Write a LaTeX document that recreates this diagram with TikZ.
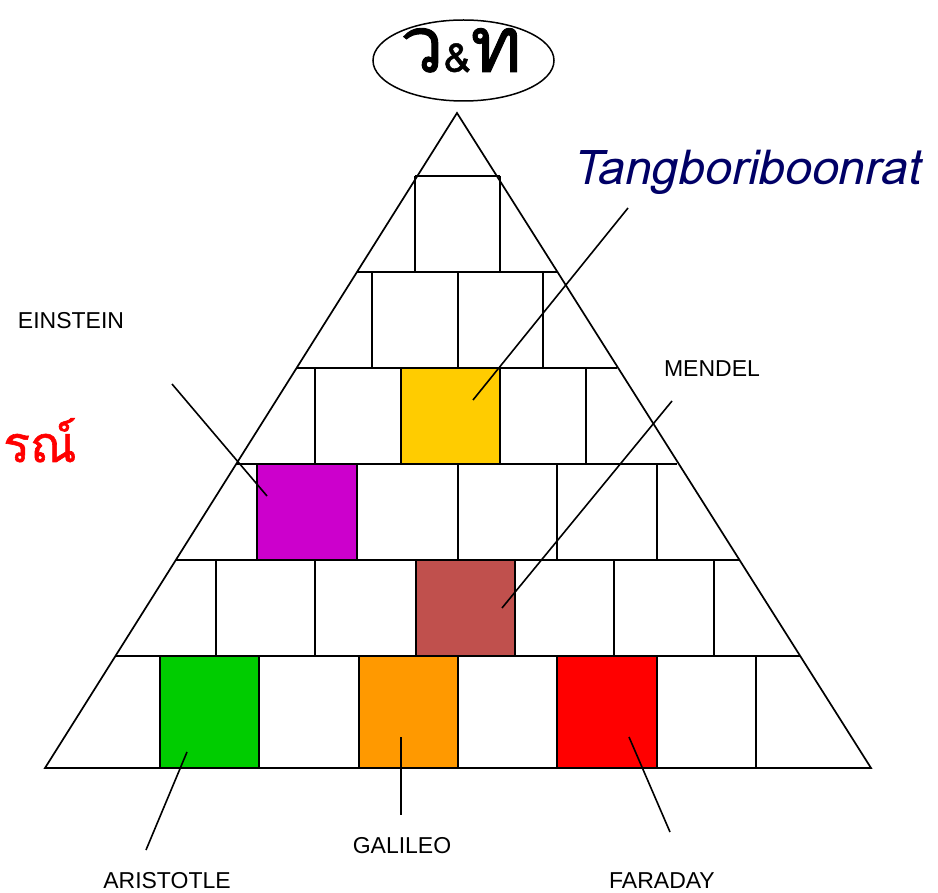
\documentclass[tikz,border=0pt]{standalone}
\usepackage{fontspec}
\setmainfont{Liberation Sans}
\newfontfamily\thaifont[Script=Thai,FakeBold=1.2]{Loma}
\newfontfamily\tangfont[FakeSlant=0.22]{Loma}
\usetikzlibrary{shapes.geometric}
\definecolor{cyel}{HTML}{FFCC00}
\definecolor{cpur}{HTML}{CC00CC}
\definecolor{cbrn}{HTML}{C0504D}
\definecolor{cgrn}{HTML}{00CC00}
\definecolor{corg}{HTML}{FF9900}
\definecolor{cred}{HTML}{FF0000}
\definecolor{cnavy}{HTML}{000066}
\tikzset{
  gridline/.style={line width=2pt},
  cbox/.style={draw, line width=2pt, inner sep=0pt, minimum width=#1, minimum height=96pt},
  lbl/.style={font=\fontsize{23}{23}\selectfont, inner sep=0pt},
  conn/.style={line width=1.6pt}
}
\begin{document}
\begin{tikzpicture}[x=1pt,y=-1pt]
\useasboundingbox (0,0) rectangle (938,893);
% triangle
\draw[line width=1.7pt, line join=miter] (457,113) -- (871,768) -- (45,768) -- cycle;
% horizontal lines
\draw[gridline] (415,176) -- (500,176);
\draw[gridline] (357,272) -- (557,272);
\draw[gridline] (297,368) -- (617,368);
\draw[gridline] (237,464) -- (677,464);
\draw[gridline] (176,560) -- (740,560);
\draw[gridline] (116,656) -- (800,656);
% verticals row 1
\draw[gridline] (415,176) -- (415,272);
\draw[gridline] (500,176) -- (500,272);
% row 2
\foreach \x in {372,458,543} \draw[gridline] (\x,272) -- (\x,368);
% row 3
\foreach \x in {315,586} \draw[gridline] (\x,368) -- (\x,464);
% row 4
\foreach \x in {458,557,657} \draw[gridline] (\x,464) -- (\x,560);
% row 5
\foreach \x in {216,315,614,714} \draw[gridline] (\x,560) -- (\x,656);
% row 6
\draw[gridline] (756,656) -- (756,768);
% coloured boxes
\node[cbox=99pt, fill=cyel] (yellow) at (450.5,416) {};
\node[cbox=100pt, fill=cpur] (purple) at (307,512) {};
\node[cbox=99pt, fill=cbrn] (brown) at (465,608) {};
\node[cbox=99pt, fill=cgrn, minimum height=112pt] (green) at (209.5,712) {};
\node[cbox=99pt, fill=corg, minimum height=112pt] (orange) at (408.5,712) {};
\node[cbox=100pt, fill=cred, minimum height=112pt] (red) at (607,712) {};
% title ellipse
\node[ellipse, draw, line width=1.5pt, minimum width=181pt, minimum height=81pt, inner sep=0pt] (title) at (463.5,60.5) {};
\node[inner sep=0pt, anchor=base] (titletext) at (461,72) {\thaifont\fontsize{78}{78}\selectfont ว{\fontsize{40}{40}\selectfont\&}ท};
% texts
\node[inner sep=0pt, anchor=base west, text=cred] (redtext) at (3,462) {\thaifont\fontsize{50}{50}\selectfont รณ์};
\node[inner sep=0pt, anchor=base, text=cnavy] (tang) at (746,185) {\tangfont\fontsize{48}{48}\selectfont Tangboriboonrat};
\node[lbl] (einstein) at (71,321) {EINSTEIN};
\node[lbl] (mendel) at (712,369) {MENDEL};
\node[lbl] (galileo) at (402,846) {GALILEO};
\node[lbl] (aristotle) at (167,881) {ARISTOTLE};
\node[lbl] (faraday) at (662,881) {FARADAY};
% connector ends
\coordinate (tangA) at (628,208);
\coordinate (tangB) at (473,400);
\coordinate (einA) at (172,384);
\coordinate (einB) at (267,496);
\coordinate (menA) at (672,401);
\coordinate (menB) at (502,608);
\coordinate (ariA) at (187,752);
\coordinate (ariB) at (146,850);
\coordinate (galA) at (401,737);
\coordinate (galB) at (401,815);
\coordinate (farA) at (629,737);
\coordinate (farB) at (670,832);
\draw[conn] (tangA) -- (tangB);
\draw[conn] (einA) -- (einB);
\draw[conn] (menA) -- (menB);
\draw[conn] (ariA) -- (ariB);
\draw[conn] (galA) -- (galB);
\draw[conn] (farA) -- (farB);
\end{tikzpicture}
\end{document}
